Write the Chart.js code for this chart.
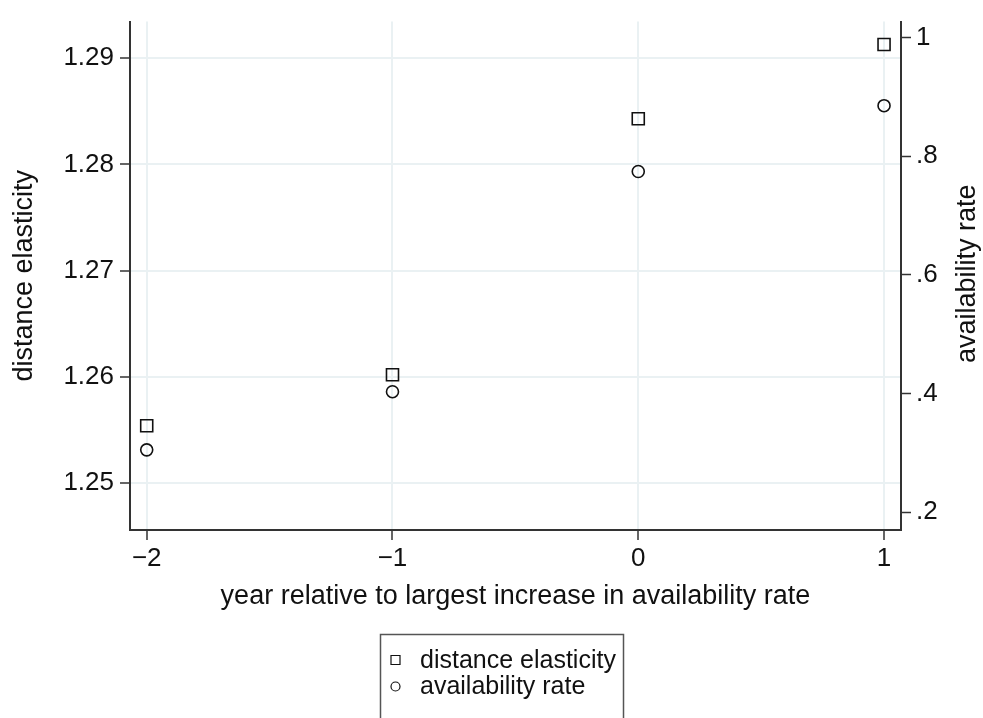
<!DOCTYPE html>
<html>
<head>
<meta charset="utf-8">
<script src="https://cdn.jsdelivr.net/npm/chart.js@4.4.0/dist/chart.umd.min.js"></script>
<style>
  html, body { margin: 0; padding: 0; background: #fff; }
  #wrap { position: relative; width: 983px; height: 718px; }
</style>
</head>
<body>
<div id="wrap"><canvas id="chart" width="983" height="718"></canvas></div>
<script>
// data
const years = [-2, -1, 0, 1];
const distanceElasticity = [1.2554, 1.2602, 1.2843, 1.2913];
const availabilityRate = [0.305, 0.403, 0.774, 0.885];

// tick labels
const xTicks = [-2, -1, 0, 1];
const leftTicks = [1.25, 1.26, 1.27, 1.28, 1.29];
const rightTicks = [0.2, 0.4, 0.6, 0.8, 1];

const FONT = "'Liberation Sans', Arial, Helvetica, sans-serif";
const GRID = '#eaf1f3';
const AXIS = '#333';

function fmtX(v) { return v < 0 ? '\u2212' + Math.abs(v) : String(v); }
function fmtRight(v) { return v === 1 ? '1' : v.toFixed(1).replace(/^0/, ''); }

// right title in Stata reads bottom-to-top, so draw it ourselves
const rightTitle = {
  id: 'rightTitle',
  afterDraw(chart) {
    const c = chart.ctx, a = chart.chartArea;
    c.save();
    c.translate(968, (a.top + a.bottom) / 2 - 2);
    c.rotate(-Math.PI / 2);
    c.font = '27px ' + FONT;
    c.fillStyle = '#111';
    c.textAlign = 'center';
    c.textBaseline = 'middle';
    c.fillText('availability rate', 0, 0);
    c.restore();
  }
};

// boxed legend below the plot, one entry per row
const boxLegend = {
  id: 'boxLegend',
  afterDraw(chart) {
    const c = chart.ctx;
    c.save();
    c.strokeStyle = '#555';
    c.lineWidth = 1.5;
    c.strokeRect(380.5, 634.5, 243, 120);
    c.font = '25px ' + FONT;
    c.fillStyle = '#111';
    c.textBaseline = 'middle';
    chart.data.datasets.forEach((ds, i) => {
      const y = 660 + i * 26.5;
      c.lineWidth = 1.2;
      c.strokeStyle = '#111';
      c.beginPath();
      if (ds.pointStyle === 'rect') c.rect(391, y - 4.5, 9, 9);
      else c.arc(395.5, y, 4.5, 0, Math.PI * 2);
      c.stroke();
      c.fillText(ds.label, 420, y + 1);
    });
    c.restore();
  }
};

new Chart(document.getElementById('chart'), {
  type: 'scatter',
  data: {
    datasets: [
      {
        label: 'distance elasticity',
        data: years.map((x, i) => ({ x: x, y: distanceElasticity[i] })),
        yAxisID: 'y',
        pointStyle: 'rect',
        pointRadius: 8.5,
        pointBorderWidth: 1.6,
        borderColor: '#111',
        backgroundColor: 'rgba(0,0,0,0)'
      },
      {
        label: 'availability rate',
        data: years.map((x, i) => ({ x: x, y: availabilityRate[i] })),
        yAxisID: 'y2',
        pointStyle: 'circle',
        pointRadius: 6,
        pointBorderWidth: 1.6,
        borderColor: '#111',
        backgroundColor: 'rgba(0,0,0,0)'
      }
    ]
  },
  options: {
    responsive: false,
    animation: false,
    layout: { padding: { top: 17, left: 0, right: 0, bottom: 98 } },
    plugins: { legend: { display: false }, tooltip: { enabled: false } },
    scales: {
      x: {
        type: 'linear',
        min: -2.068,
        max: 1.069,
        afterBuildTicks: s => { s.ticks = xTicks.map(v => ({ value: v })); },
        afterFit: s => { s.height = 90; },
        grid: { color: GRID, lineWidth: 2, tickColor: AXIS, tickLength: 10, tickWidth: 1.5 },
        border: { color: AXIS, width: 2 },
        ticks: {
          font: { family: FONT, size: 26 }, color: '#111', padding: 3,
          maxRotation: 0, autoSkip: false, callback: v => fmtX(v)
        },
        title: {
          display: true, text: 'year relative to largest increase in availability rate',
          font: { family: FONT, size: 27 }, color: '#111', padding: { top: 0, bottom: 7 }
        }
      },
      y: {
        position: 'left',
        min: 1.24559,
        max: 1.29345,
        afterBuildTicks: s => { s.ticks = leftTicks.map(v => ({ value: v })); },
        afterFit: s => { s.width = 130; },
        grid: { color: GRID, lineWidth: 2, tickColor: AXIS, tickLength: 10, tickWidth: 1.5 },
        border: { color: AXIS, width: 2 },
        ticks: {
          font: { family: FONT, size: 26 }, color: '#111', padding: 6,
          autoSkip: false, callback: v => v.toFixed(2)
        },
        title: {
          display: true, text: 'distance elasticity',
          font: { family: FONT, size: 27 }, color: '#111', padding: { top: 8, bottom: 0 }
        }
      },
      y2: {
        position: 'right',
        min: 0.1699,
        max: 1.0267,
        afterBuildTicks: s => { s.ticks = rightTicks.map(v => ({ value: v })); },
        afterFit: s => { s.width = 82; },
        grid: { drawOnChartArea: false, tickColor: AXIS, tickLength: 10, tickWidth: 1.5 },
        border: { color: AXIS, width: 2 },
        ticks: {
          font: { family: FONT, size: 26 }, color: '#111', padding: 5,
          autoSkip: false, callback: v => fmtRight(v)
        }
      }
    }
  },
  plugins: [rightTitle, boxLegend]
});
</script>
</body>
</html>
